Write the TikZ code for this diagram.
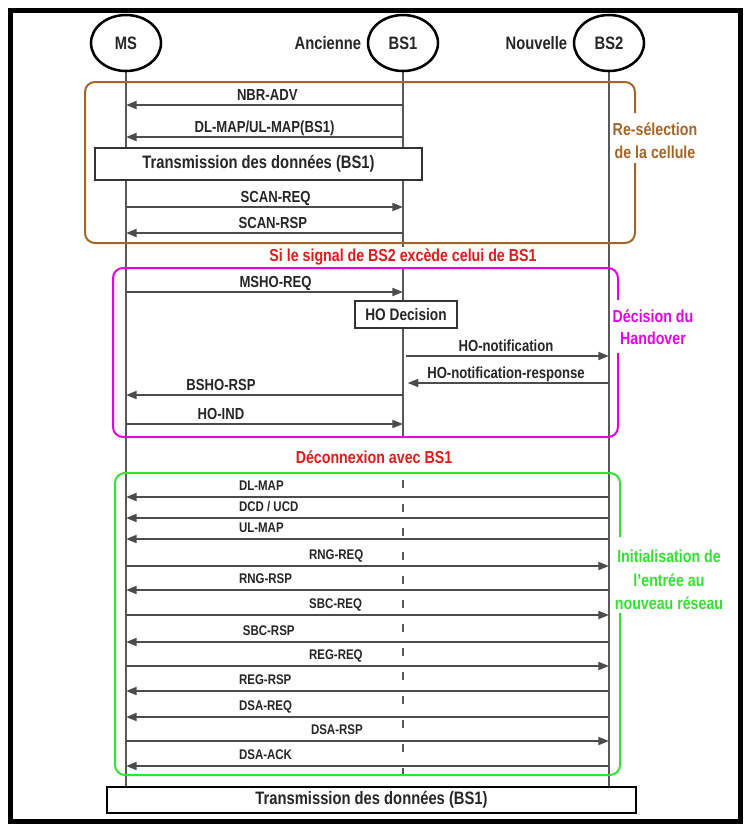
\documentclass[tikz,border=0pt]{standalone}
\usepackage{fontspec}
\setmainfont{Liberation Sans}[FakeStretch=0.82]
\usepackage{xcolor}
\usepackage{tikz}
\usetikzlibrary{arrows.meta, positioning, shapes.geometric, backgrounds}

\definecolor{brun}{RGB}{165,100,40}
\definecolor{violet}{RGB}{230,0,230}
\definecolor{vert}{RGB}{50,225,50}
\definecolor{rouge}{RGB}{230,25,25}

\begin{document}
\begin{tikzpicture}[
            x=0.75pt, y=-0.75pt,               % une unité = un pixel de la capture
            actor/.style={
                ellipse,
                draw=black,
                line width=1.9pt,
                minimum width=52.5pt,
                minimum height=42pt,
                inner sep=0pt,
                text=black!85,
                font=\bfseries\fontsize{13.5}{16}\selectfont
            },
            role/.style={
                inner sep=2pt,
                text=black!85,
                font=\bfseries\fontsize{13.5}{16}\selectfont
            },
            block/.style={
                rectangle,
                draw=black!80,
                fill=white,
                line width=1.1pt,
                inner sep=0pt,
                text=black!85,
                font=\bfseries\fontsize{13.5}{16}\selectfont
            },
            lifeline/.style={
                draw=black!65,
                line width=1pt
            },
            msg/.style={
                draw=black!70,
                line width=1.5pt,
                -{Triangle[length=8pt, width=6pt]}
            },
            lab/.style={
                anchor=base,
                inner sep=0pt,
                yshift=3.75pt,
                text=black!85,
                font=\bfseries\fontsize{12}{14}\selectfont
            },
            glab/.style={
                anchor=base west,
                inner sep=0pt,
                yshift=5.25pt,
                text=black!85,
                font=\bfseries\fontsize{10.5}{12}\selectfont
            },
            zone/.style={
                line width=1.5pt,
                rounded corners=7.5pt
            },
            phase/.style={
                align=center,
                font=\bfseries\fontsize{13}{17.5}\selectfont
            },
            cond/.style={
                fill=white,
                inner sep=1pt,
                text=rouge,
                font=\bfseries\fontsize{13}{15}\selectfont
            }
        ]
            \useasboundingbox (0,0) rectangle (745,825);
            \draw [line width=3.75pt] (10,10) rectangle (740,821);

            % --- ENTITES ---
            \node [actor] (MS) at (126,43) {MS};
            \node [actor] (BS1) at (403,43) {BS1};
            \node [actor] (BS2) at (609,43) {BS2};
            \node [role, left=2pt of BS1] (old) {Ancienne};
            \node [role, left=2pt of BS2] (new) {Nouvelle};

            % --- BOITES ---
            \node [block, minimum width=245.25pt, minimum height=24pt] (trans1) at (258.5,164) {Transmission des données (BS1)};
            \node [block, line width=1.9pt, draw=black, minimum width=396.75pt, minimum height=19.5pt] (trans2) at (371.5,800) {Transmission des données (BS1)};
            \node [block, minimum width=76.5pt, minimum height=20.25pt, font=\bfseries\fontsize{12.5}{15}\selectfont] (hodec) at (406,314.5) {HO Decision};

            % --- LIGNES DE VIE ---
            \begin{scope}[on background layer]
                \path [lifeline] (MS.south) -- (MS |- trans2.north);
                \path [lifeline] (BS1.south) -- (BS1 |- 0,437);
                \path [lifeline, dash pattern=on 6pt off 12pt] (BS1 |- 0,480) -- (BS1 |- trans2.north);
                \path [lifeline] (BS2.south) -- (BS2 |- trans2.north);
            \end{scope}

            % --- PHASES ---
            \draw [zone, draw=brun] (635,163) -- (635,243) -- (85,243) -- (85,82) -- (635,82) -- (635,113);
            \node [phase, text=brun] (reselect) at (655,140.5) {Re-sélection\\de la cellule};

            \node [cond] (cond1) at (403,257) {Si le signal de BS2 excède celui de BS1};

            \draw [zone, draw=violet] (618,353) -- (618,437) -- (113,437) -- (113,268) -- (618,268) -- (618,300);
            \node [phase, text=violet, font=\bfseries\fontsize{13}{16.5}\selectfont] (decision) at (653,327) {Décision du\\Handover};

            \node [cond] (cond2) at (374,457) {Déconnexion avec BS1};

            \draw [zone, draw=vert] (620,613) -- (620,775) -- (115,775) -- (115,473) -- (620,473) -- (620,537);
            \node [phase, text=vert] (init) at (669,580) {Initialisation de\\l'entrée au\\nouveau réseau};

            % --- MESSAGES : RE-SELECTION ---
            \path [msg] (BS1 |- 0,105) -- node[lab, pos=0.49] {NBR-ADV} (MS |- 0,105);
            \path [msg] (BS1 |- 0,137) -- node[lab] {DL-MAP/UL-MAP(BS1)} (MS |- 0,137);
            \path [msg] (MS |- 0,207) -- node[lab, pos=0.54] {SCAN-REQ} (BS1 |- 0,207);
            \path [msg] (BS1 |- 0,233) -- node[lab, pos=0.47] {SCAN-RSP} (MS |- 0,233);

            % --- MESSAGES : HANDOVER ---
            \path [msg] (MS |- 0,292) -- node[lab, pos=0.54] {MSHO-REQ} (BS1 |- 0,292);
            \path [msg, shorten <=2.25pt] (BS1 |- 0,356) -- node[lab] {HO-notification} (BS2 |- 0,356);
            \path [msg, shorten >=3.5pt] (BS2 |- 0,383) -- node[lab] {HO-notification-response} (BS1 |- 0,383);
            \path [msg] (BS1 |- 0,395) -- node[lab, pos=0.657] {BSHO-RSP} (MS |- 0,395);
            \path [msg] (MS |- 0,424) -- node[lab, pos=0.343] {HO-IND} (BS1 |- 0,424);

            % --- MESSAGES : ENTREE AU RESEAU ---
            \path [msg] (BS2 |- 0,497) -- node[glab, pos=0.768] {DL-MAP} (MS |- 0,497);
            \path [msg] (BS2 |- 0,518) -- node[glab, pos=0.768] {DCD / UCD} (MS |- 0,518);
            \path [msg] (BS2 |- 0,539) -- node[glab, pos=0.768] {UL-MAP} (MS |- 0,539);
            \path [msg] (MS |- 0,566) -- node[glab, pos=0.377] {RNG-REQ} (BS2 |- 0,566);
            \path [msg] (BS2 |- 0,590) -- node[glab, pos=0.768] {RNG-RSP} (MS |- 0,590);
            \path [msg] (MS |- 0,615) -- node[glab, pos=0.377] {SBC-REQ} (BS2 |- 0,615);
            \path [msg] (BS2 |- 0,642) -- node[glab, pos=0.76] {SBC-RSP} (MS |- 0,642);
            \path [msg] (MS |- 0,666) -- node[glab, pos=0.377] {REG-REQ} (BS2 |- 0,666);
            \path [msg] (BS2 |- 0,691) -- node[glab, pos=0.768] {REG-RSP} (MS |- 0,691);
            \path [msg] (BS2 |- 0,717) -- node[glab, pos=0.768] {DSA-REQ} (MS |- 0,717);
            \path [msg] (MS |- 0,741) -- node[glab, pos=0.381] {DSA-RSP} (BS2 |- 0,741);
            \path [msg] (BS2 |- 0,766) -- node[glab, pos=0.768] {DSA-ACK} (MS |- 0,766);
        \end{tikzpicture}
\end{document}
